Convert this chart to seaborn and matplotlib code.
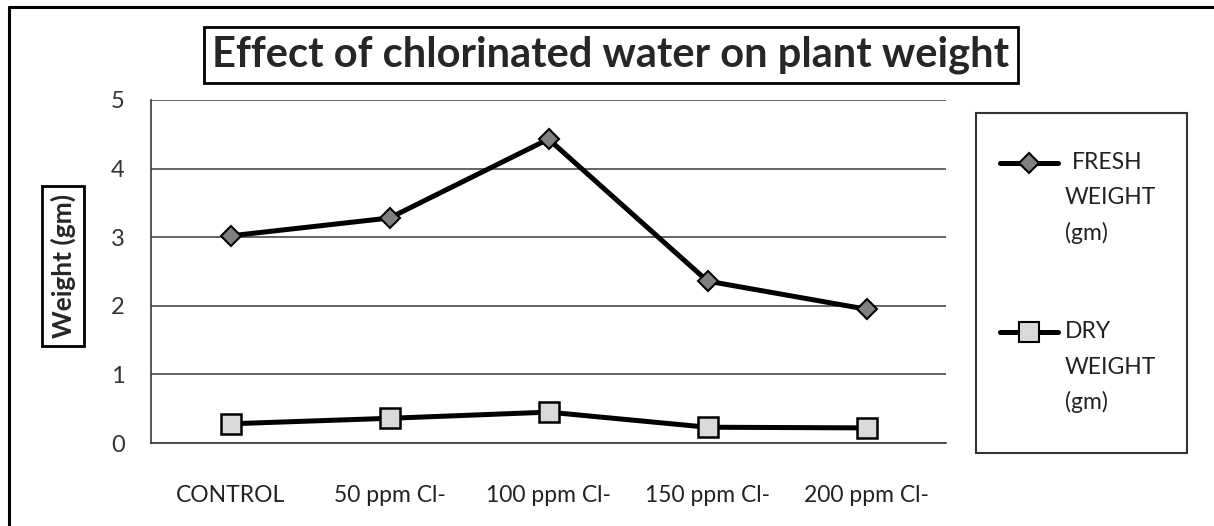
import pandas as pd
import matplotlib.pyplot as plt
import seaborn as sns
from matplotlib.lines import Line2D
from matplotlib.patches import Rectangle

# values
treatments = ['CONTROL', '50 ppm Cl-', '100 ppm Cl-', '150 ppm Cl-', '200 ppm Cl-']
fresh_weight = [3.02, 3.28, 4.43, 2.36, 1.95]
dry_weight = [0.28, 0.36, 0.45, 0.23, 0.22]
y_ticks = [0, 1, 2, 3, 4, 5]

sns.set_style('white')
plt.rcParams['font.family'] = ['Lato', 'DejaVu Sans']

W, H = 1214, 526
fig = plt.figure(figsize=(12.14, 5.26), dpi=100)
ax = fig.add_axes([151 / W, 1 - 443 / H, 795 / W, 343 / H])

df = pd.DataFrame({'treatment': treatments, 'fresh': fresh_weight, 'dry': dry_weight})

sns.lineplot(data=df, x='treatment', y='fresh', sort=False, ax=ax, color='black',
             linewidth=3.6, marker='D', markersize=10, markerfacecolor='#808080',
             markeredgecolor='black', markeredgewidth=1.5, zorder=3)
sns.lineplot(data=df, x='treatment', y='dry', sort=False, ax=ax, color='black',
             linewidth=3.6, marker='s', markersize=15, markerfacecolor='#d9d9d9',
             markeredgecolor='black', markeredgewidth=1.8, zorder=3)

ax.set_xlim(-0.5, 4.5)
ax.set_ylim(0, 5)
ax.set_yticks(y_ticks)
ax.set_xlabel('')
ax.set_ylabel('')
ax.grid(axis='y', color='#3a3a3a', linewidth=1.1)
ax.grid(axis='x', visible=False)
ax.tick_params(axis='y', length=0, pad=19, labelsize=17, labelcolor='#333333')
ax.tick_params(axis='x', length=0, pad=30, labelsize=16.5, labelcolor='#222222')
for side in ['top', 'right']:
    ax.spines[side].set_visible(False)
for side in ['left', 'bottom']:
    ax.spines[side].set_color('#3a3a3a')
    ax.spines[side].set_linewidth(1.2)

# title in a box
fig.text(611 / W, 1 - 55 / H, 'Effect of chlorinated water on plant weight',
         ha='center', va='center', fontsize=30, fontweight='bold',
         bbox=dict(boxstyle='square,pad=0.2', facecolor='white', edgecolor='black', linewidth=2))

# y label in a box
fig.text(63 / W, 1 - 266 / H, 'Weight (gm)', rotation=90, ha='center', va='center',
         fontsize=19, fontweight='bold',
         bbox=dict(boxstyle='square,pad=0.3', facecolor='white', edgecolor='black', linewidth=2))

# legend drawn by hand so the marker sits next to the first line
fig.add_artist(Rectangle((976 / W, 1 - 453 / H), 211 / W, 340 / H, transform=fig.transFigure,
                         facecolor='white', edgecolor='#333333', linewidth=1.5))
entries = [
    (163, 'D', 10, '#808080', ['FRESH', 'WEIGHT', '(gm)'], 1072),
    (332, 's', 15, '#d9d9d9', ['DRY', 'WEIGHT', '(gm)'], 1065),
]
for yy, mk, ms, fc, lines, x0 in entries:
    fig.add_artist(Line2D([1000 / W, 1058 / W], [1 - yy / H] * 2, transform=fig.transFigure,
                          color='black', linewidth=3.6))
    fig.add_artist(Line2D([1029 / W], [1 - yy / H], transform=fig.transFigure, marker=mk,
                          markersize=ms, markerfacecolor=fc, markeredgecolor='black',
                          markeredgewidth=1.5, linestyle='none'))
    for i, txt in enumerate(lines):
        fig.text((x0 if i == 0 else 1065) / W, 1 - (yy + 35 * i) / H, txt, ha='left', va='center',
                 fontsize=16.5, color='#222222')

# outer frame (left and top edges visible in the reference)
fig.add_artist(Line2D([9 / W, 9 / W], [0, 1 - 7 / H], transform=fig.transFigure,
                      color='black', linewidth=2.2))
fig.add_artist(Line2D([9 / W, 1], [1 - 7 / H, 1 - 7 / H], transform=fig.transFigure,
                      color='black', linewidth=2.2))

fig.savefig('out.png', dpi=100)
